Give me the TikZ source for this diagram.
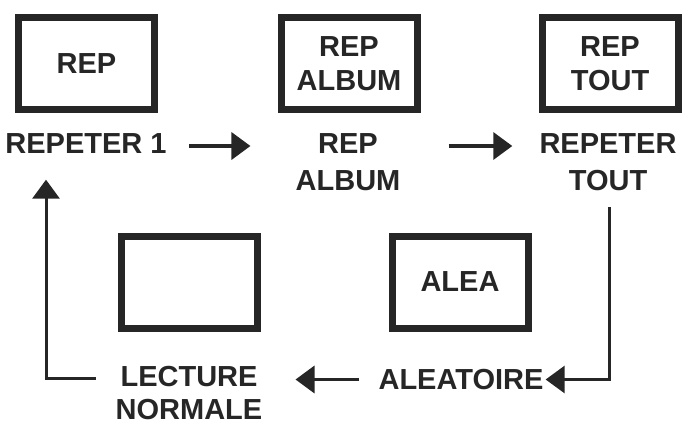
\documentclass[tikz,border=0pt]{standalone}
\usepackage{fontspec}
\setmainfont{Liberation Sans}
\usetikzlibrary{arrows.meta}
\begin{document}
\begin{tikzpicture}[x=1pt,y=-1pt,
  every node/.style={font=\bfseries\fontsize{29}{34}\selectfont, text=black!85, align=center, inner sep=0pt},
  screen/.style={draw=black!85, line width=7pt, minimum width=136pt, minimum height=92pt},
  lbl/.style={},
  lbl2/.style={font=\bfseries\fontsize{29}{37}\selectfont},
  lbl3/.style={font=\bfseries\fontsize{29}{33}\selectfont},
  arr/.style={draw=black!85, line width=3.5pt, -{Triangle[length=19pt,width=27pt]}},
  con/.style={draw=black!85, line width=3pt, -{Triangle[length=19pt,width=27pt]}}]
\useasboundingbox (0,0) rectangle (692,429);
% screens
\node[screen] (b1) at (86.5,63.5) {REP};
\node[screen] (b2) at (349,63.5) {REP\\ALBUM};
\node[screen] (b3) at (610,63.5) {REP\\TOUT};
\node[screen] (b4) at (189,282) {};
\node[screen] (b5) at (460,282) {ALEA};
% labels
\node[lbl] (l1) at (86,143.5) {REPETER 1};
\node[lbl2] (l2) at (348,162) {REP\\ALBUM};
\node[lbl2] (l3) at (608,162) {REPETER\\TOUT};
\node[lbl3] (l4) at (189,393.5) {LECTURE\\NORMALE};
\node[lbl] (l5) at (461,379.5) {ALEATOIRE};
% connectors
\draw[arr] ([xshift=22pt,yshift=-2.5pt]l1.east) -- ([xshift=-45pt,yshift=-2.5pt]l1.east -| l2.west);
\draw[arr] ([xshift=48pt,yshift=-2.5pt]l1.east -| l2.east) -- ([xshift=-27pt,yshift=-2.5pt]l1.east -| l3.west);
\draw[con] ([xshift=1pt,yshift=-16pt]l3.south) |- ([xshift=2pt]l5.east);
\draw[arr] ([xshift=-19pt]l5.west) -- ([xshift=33pt]l5.west -| l4.east);
\draw[con] ([xshift=-20pt,yshift=15.5pt]l4.west) -| ([xshift=-40pt,yshift=-26pt]l1.south);
\end{tikzpicture}
\end{document}
